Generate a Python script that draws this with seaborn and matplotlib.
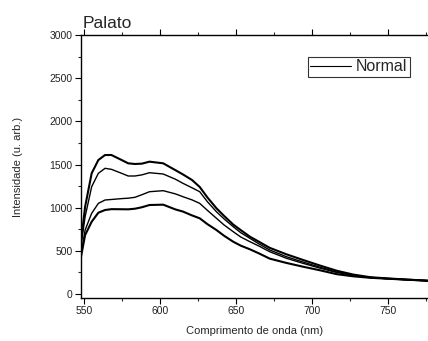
import numpy as np
import pandas as pd
import seaborn as sns
import matplotlib
matplotlib.use("Agg")
import matplotlib.pyplot as plt
from matplotlib.ticker import MultipleLocator

wavelength = [547.5, 550.7, 555, 559.4, 563.8, 568, 574.7, 579, 583.4, 588, 593, 602, 610, 615, 621, 626,
              631, 637, 642, 648, 653, 659, 665, 672, 683, 694, 705, 716, 727, 738, 750, 762, 776]

curve1 = [530, 1011, 1398, 1552, 1610, 1610, 1552, 1514, 1506, 1510, 1533, 1514, 1435, 1385, 1320, 1240,
          1120, 993, 905, 805, 740, 664, 605, 535, 460, 394, 330, 270, 225, 195, 180, 168, 154]
curve2 = [500, 895, 1243, 1398, 1456, 1444, 1398, 1367, 1367, 1380, 1405, 1390, 1330, 1282, 1230, 1185,
          1070, 953, 870, 780, 710, 645, 580, 510, 432, 370, 310, 255, 220, 192, 178, 166, 154]
curve3 = [400, 741, 935, 1050, 1089, 1095, 1105, 1110, 1120, 1150, 1185, 1197, 1160, 1127, 1090, 1050,
          970, 877, 800, 722, 660, 606, 555, 490, 414, 355, 300, 250, 217, 190, 177, 166, 154]
curve4 = [385, 683, 837, 942, 973, 983, 982, 981, 988, 1005, 1031, 1035, 980, 955, 910, 877,
          810, 741, 675, 606, 560, 518, 470, 410, 360, 316, 275, 230, 205, 188, 177, 166, 154]

series = [curve1, curve2, curve3, curve4]
widths = [1.5, 1.0, 1.0, 1.5]

sns.set_style("white")
plt.rcParams['font.family'] = ['Liberation Sans', 'DejaVu Sans']

fig = plt.figure(figsize=(4.28, 3.41), dpi=100)
ax = fig.add_axes([80.7 / 428, 1 - 298 / 341, 1 - 80.7 / 428, (298 - 35) / 341])

for vals, lw in zip(series, widths):
    df = pd.DataFrame({"x": wavelength, "y": vals})
    sns.lineplot(data=df, x="x", y="y", ax=ax, color="black", linewidth=lw, legend=False)

ax.set_xlim(547.8, 776)
ax.set_ylim(-46, 3000)
ax.xaxis.set_major_locator(MultipleLocator(50))
ax.xaxis.set_minor_locator(MultipleLocator(25))
ax.yaxis.set_major_locator(MultipleLocator(500))
ax.yaxis.set_minor_locator(MultipleLocator(250))
ax.tick_params(which="major", direction="out", length=4, width=0.8, labelsize=7.5,
               bottom=True, left=True, top=True, colors="black", labelcolor="#222222", pad=2)
ax.tick_params(which="minor", direction="out", length=2, width=0.8,
               bottom=True, left=True, top=True)
ax.tick_params(axis="x", which="both", labeltop=False)
for s in ax.spines.values():
    s.set_color("black")
    s.set_linewidth(1.0)
ax.spines["right"].set_visible(False)

ax.set_xlabel("Comprimento de onda (nm)", fontsize=8, labelpad=7)
ax.set_ylabel("Intensidade (u. arb.)", fontsize=8, labelpad=19)
ax.set_title("Palato", fontsize=12.5, loc="left", pad=5, x=0.005)

leg = ax.legend(handles=[plt.Line2D([], [], color="black", lw=0.8)], labels=["Normal"],
                loc="upper right", fontsize=11.5, frameon=True, fancybox=False,
                handlelength=2.6, handletextpad=0.3, borderpad=0.15, borderaxespad=0)
leg.get_frame().set_edgecolor("black")
leg.get_frame().set_linewidth(0.8)
leg.set_bbox_to_anchor((410 / 428, 1 - 57 / 341), transform=fig.transFigure)

fig.savefig("out.png", dpi=100)
